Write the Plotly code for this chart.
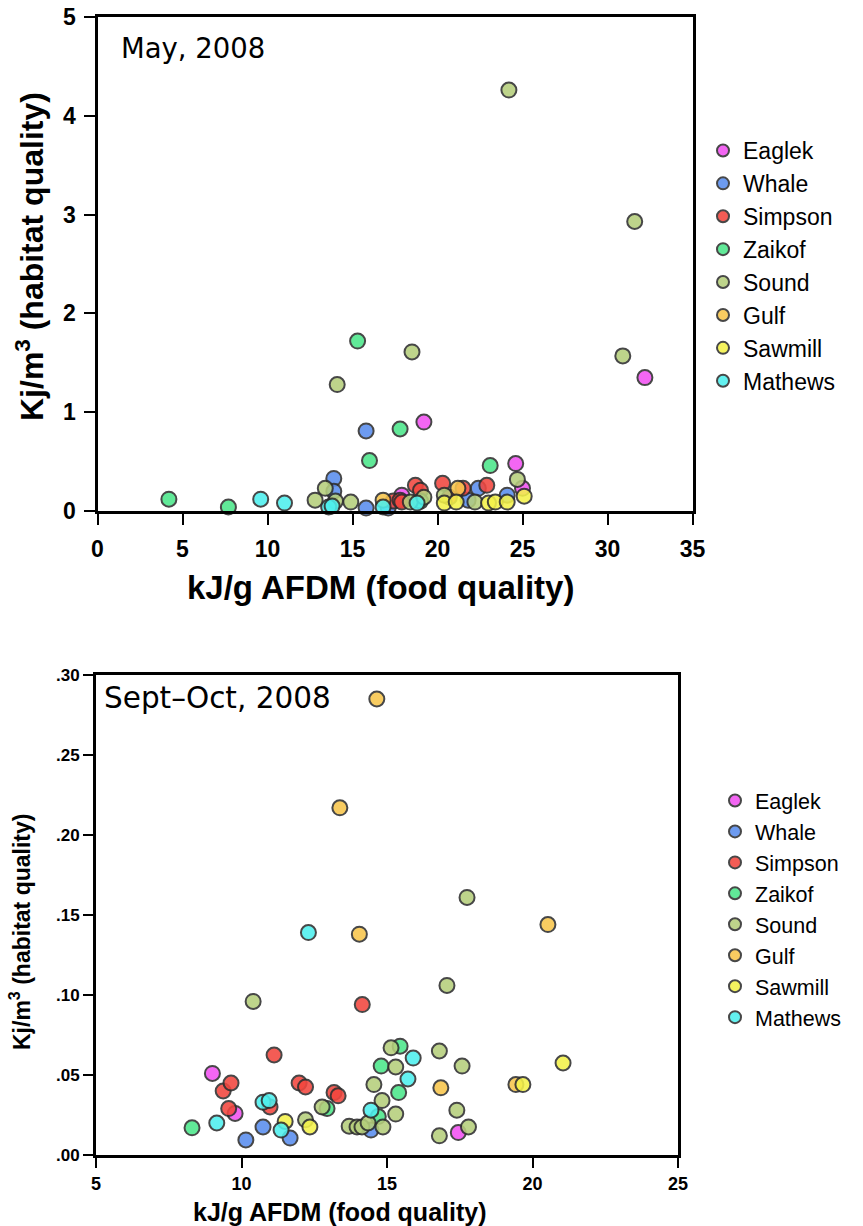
import plotly.graph_objects as go

W, H = 863, 1226

sites = ["Eaglek", "Whale", "Simpson", "Zaikof", "Sound", "Gulf", "Sawmill", "Mathews"]
colors = {
    "Eaglek": "#f252f2",
    "Whale": "#5a8eee",
    "Simpson": "#f2463e",
    "Zaikof": "#4ce68a",
    "Sound": "#b6cf7c",
    "Gulf": "#f8c64c",
    "Sawmill": "#f4f24a",
    "Mathews": "#4ef0ee",
}

# May 2008: food quality (kJ/g AFDM) and habitat quality (kJ/m3)
may_x = {
    "Eaglek": [17.9, 19.2, 24.6, 25.0, 32.2],
    "Whale": [13.9, 13.9, 15.8, 15.8, 17.1, 21.8, 22.4, 24.1],
    "Simpson": [17.4, 17.8, 17.9, 18.7, 19.0, 20.3, 20.7, 21.5, 22.9],
    "Zaikof": [4.2, 7.7, 15.3, 16.0, 17.8, 19.0, 23.1],
    "Sound": [12.8, 13.4, 14.0, 14.1, 14.9, 18.4, 18.5, 19.2, 20.4, 22.2, 24.2, 24.7, 30.9, 31.6],
    "Gulf": [16.8, 21.2],
    "Sawmill": [20.4, 21.1, 23.0, 23.4, 24.1, 25.1],
    "Mathews": [9.6, 11.0, 13.6, 13.8, 16.8, 18.8],
}
may_y = {
    "Eaglek": [0.16, 0.90, 0.48, 0.23, 1.35],
    "Whale": [0.33, 0.20, 0.03, 0.81, 0.03, 0.11, 0.23, 0.16],
    "Simpson": [0.10, 0.11, 0.09, 0.26, 0.21, 0.28, 0.14, 0.23, 0.26],
    "Zaikof": [0.12, 0.04, 1.72, 0.51, 0.83, 0.10, 0.46],
    "Sound": [0.11, 0.23, 0.10, 1.28, 0.09, 0.09, 1.61, 0.14, 0.16, 0.09, 4.26, 0.32, 1.57, 2.93],
    "Gulf": [0.11, 0.23],
    "Sawmill": [0.08, 0.09, 0.08, 0.09, 0.09, 0.15],
    "Mathews": [0.12, 0.08, 0.04, 0.05, 0.04, 0.08],
}

# Sept-Oct 2008
sep_x = {
    "Eaglek": [9.0, 9.78, 17.45],
    "Whale": [10.15, 10.74, 11.67, 14.45],
    "Simpson": [9.37, 9.56, 9.64, 10.98, 11.12, 11.98, 12.2, 13.18, 13.32, 14.15],
    "Zaikof": [8.3, 12.94, 14.7, 14.8, 15.4, 15.45],
    "Sound": [10.4, 12.2, 12.77, 13.7, 13.97, 14.14, 14.35, 14.55, 14.83, 14.86,
              15.14, 15.3, 15.3, 16.8, 16.8, 17.06, 17.4, 17.58, 17.75, 17.8],
    "Gulf": [13.38, 14.05, 14.65, 16.85, 19.43, 20.53],
    "Sawmill": [11.5, 12.35, 19.67, 21.05],
    "Mathews": [9.15, 10.74, 10.95, 11.36, 12.3, 14.45, 15.72, 15.9],
}
sep_y = {
    "Eaglek": [0.051, 0.026, 0.014],
    "Whale": [0.0094, 0.0175, 0.0106, 0.0156],
    "Simpson": [0.040, 0.029, 0.045, 0.030, 0.0625, 0.045, 0.0425, 0.039, 0.037, 0.094],
    "Zaikof": [0.017, 0.029, 0.024, 0.0556, 0.039, 0.068],
    "Sound": [0.096, 0.022, 0.030, 0.018, 0.0175, 0.0175, 0.020, 0.044, 0.034, 0.0175,
              0.067, 0.0256, 0.055, 0.065, 0.012, 0.106, 0.028, 0.0556, 0.161, 0.0175],
    "Gulf": [0.217, 0.138, 0.285, 0.042, 0.044, 0.144],
    "Sawmill": [0.021, 0.0175, 0.044, 0.0575],
    "Mathews": [0.020, 0.033, 0.034, 0.0156, 0.139, 0.028, 0.0475, 0.0606],
}

may_xticks = [0, 5, 10, 15, 20, 25, 30, 35]
may_yticks = [0, 1, 2, 3, 4, 5]
sep_xticks = [5, 10, 15, 20, 25]
sep_yticks = [0.0, 0.05, 0.10, 0.15, 0.20, 0.25, 0.30]
sep_yticktext = [".00", ".05", ".10", ".15", ".20", ".25", ".30"]


def px_x(p):
    return p / W


def px_y(p):
    return 1 - p / H


fig = go.Figure()

for s in sites:
    fig.add_trace(go.Scatter(
        x=may_x[s], y=may_y[s], mode="markers", name=s,
        xaxis="x", yaxis="y", legend="legend", cliponaxis=False,
        marker=dict(size=15, color=colors[s], opacity=0.88,
                    line=dict(color="#2e2e2e", width=2)),
    ))
for s in sites:
    fig.add_trace(go.Scatter(
        x=sep_x[s], y=sep_y[s], mode="markers", name=s,
        xaxis="x2", yaxis="y2", legend="legend2", cliponaxis=False,
        marker=dict(size=15, color=colors[s], opacity=0.88,
                    line=dict(color="#2e2e2e", width=2)),
    ))

axis_common = dict(showline=True, mirror=True, linecolor="black", linewidth=3,
                   showgrid=False, zeroline=False, ticks="outside",
                   tickcolor="black", tickwidth=1.5, automargin=False)

fig.update_layout(
    width=W, height=H,
    margin=dict(l=0, r=0, t=0, b=0),
    paper_bgcolor="white", plot_bgcolor="white",
    font=dict(family="Liberation Sans, Arial, sans-serif", color="black"),
    xaxis=dict(domain=[px_x(97.5), px_x(692.5)], range=[0, 35], tickvals=may_xticks,
               ticklen=11, ticklabelstandoff=4,
               tickfont=dict(size=23, family="Liberation Sans", weight="bold"),
               anchor="y", **axis_common),
    yaxis=dict(domain=[px_y(511), px_y(17)], range=[0, 5], tickvals=may_yticks,
               ticklen=11, ticklabelstandoff=3,
               tickfont=dict(size=23, family="Liberation Sans", weight="bold"),
               anchor="x", **axis_common),
    xaxis2=dict(domain=[px_x(96), px_x(678)], range=[5, 25], tickvals=sep_xticks,
                ticklen=10, tickfont=dict(size=18, family="Liberation Sans", weight="bold"),
                anchor="y2", **axis_common),
    yaxis2=dict(domain=[px_y(1155), px_y(675)], range=[0, 0.30], tickvals=sep_yticks,
                ticktext=sep_yticktext, ticklen=10,
                tickfont=dict(size=17, family="Liberation Sans", weight="bold"),
                anchor="x2", **axis_common),
    legend=dict(x=px_x(703), y=px_y(129), xanchor="left", yanchor="top",
                font=dict(size=23, family="Liberation Sans"), bgcolor="rgba(0,0,0,0)",
                itemsizing="constant"),
    legend2=dict(x=px_x(715), y=px_y(780), xanchor="left", yanchor="top",
                 font=dict(size=21.5, family="Liberation Sans"), bgcolor="rgba(0,0,0,0)",
                 itemsizing="constant"),
    showlegend=True,
)

annotations = [
    dict(text="May, 2008", x=px_x(119), y=px_y(48), xanchor="left", yanchor="middle",
         font=dict(size=27.5, family="DejaVu Sans")),
    dict(text="Sept\u2013Oct, 2008", x=px_x(102), y=px_y(698), xanchor="left", yanchor="middle",
         font=dict(size=29.5, family="DejaVu Sans")),
    dict(text="kJ/g AFDM (food quality)", x=px_x(380), y=px_y(588), xanchor="center",
         yanchor="middle", font=dict(size=33, family="Liberation Sans", weight="bold")),
    dict(text="Kj/m<sup>3</sup> (habitat quality)", x=px_x(30), y=px_y(257), xanchor="center",
         yanchor="middle", textangle=-90,
         font=dict(size=32, family="Liberation Sans", weight="bold")),
    dict(text="kJ/g AFDM (food quality)", x=px_x(340), y=px_y(1212), xanchor="center",
         yanchor="middle", font=dict(size=25, family="Liberation Sans", weight="bold")),
    dict(text="Kj/m<sup>3</sup> (habitat quality)", x=px_x(20), y=px_y(932), xanchor="center",
         yanchor="middle", textangle=-90,
         font=dict(size=23, family="Liberation Sans", weight="bold")),
]
for a in annotations:
    a.update(xref="paper", yref="paper", showarrow=False)
fig.update_layout(annotations=annotations)

fig.write_html("out.html")
